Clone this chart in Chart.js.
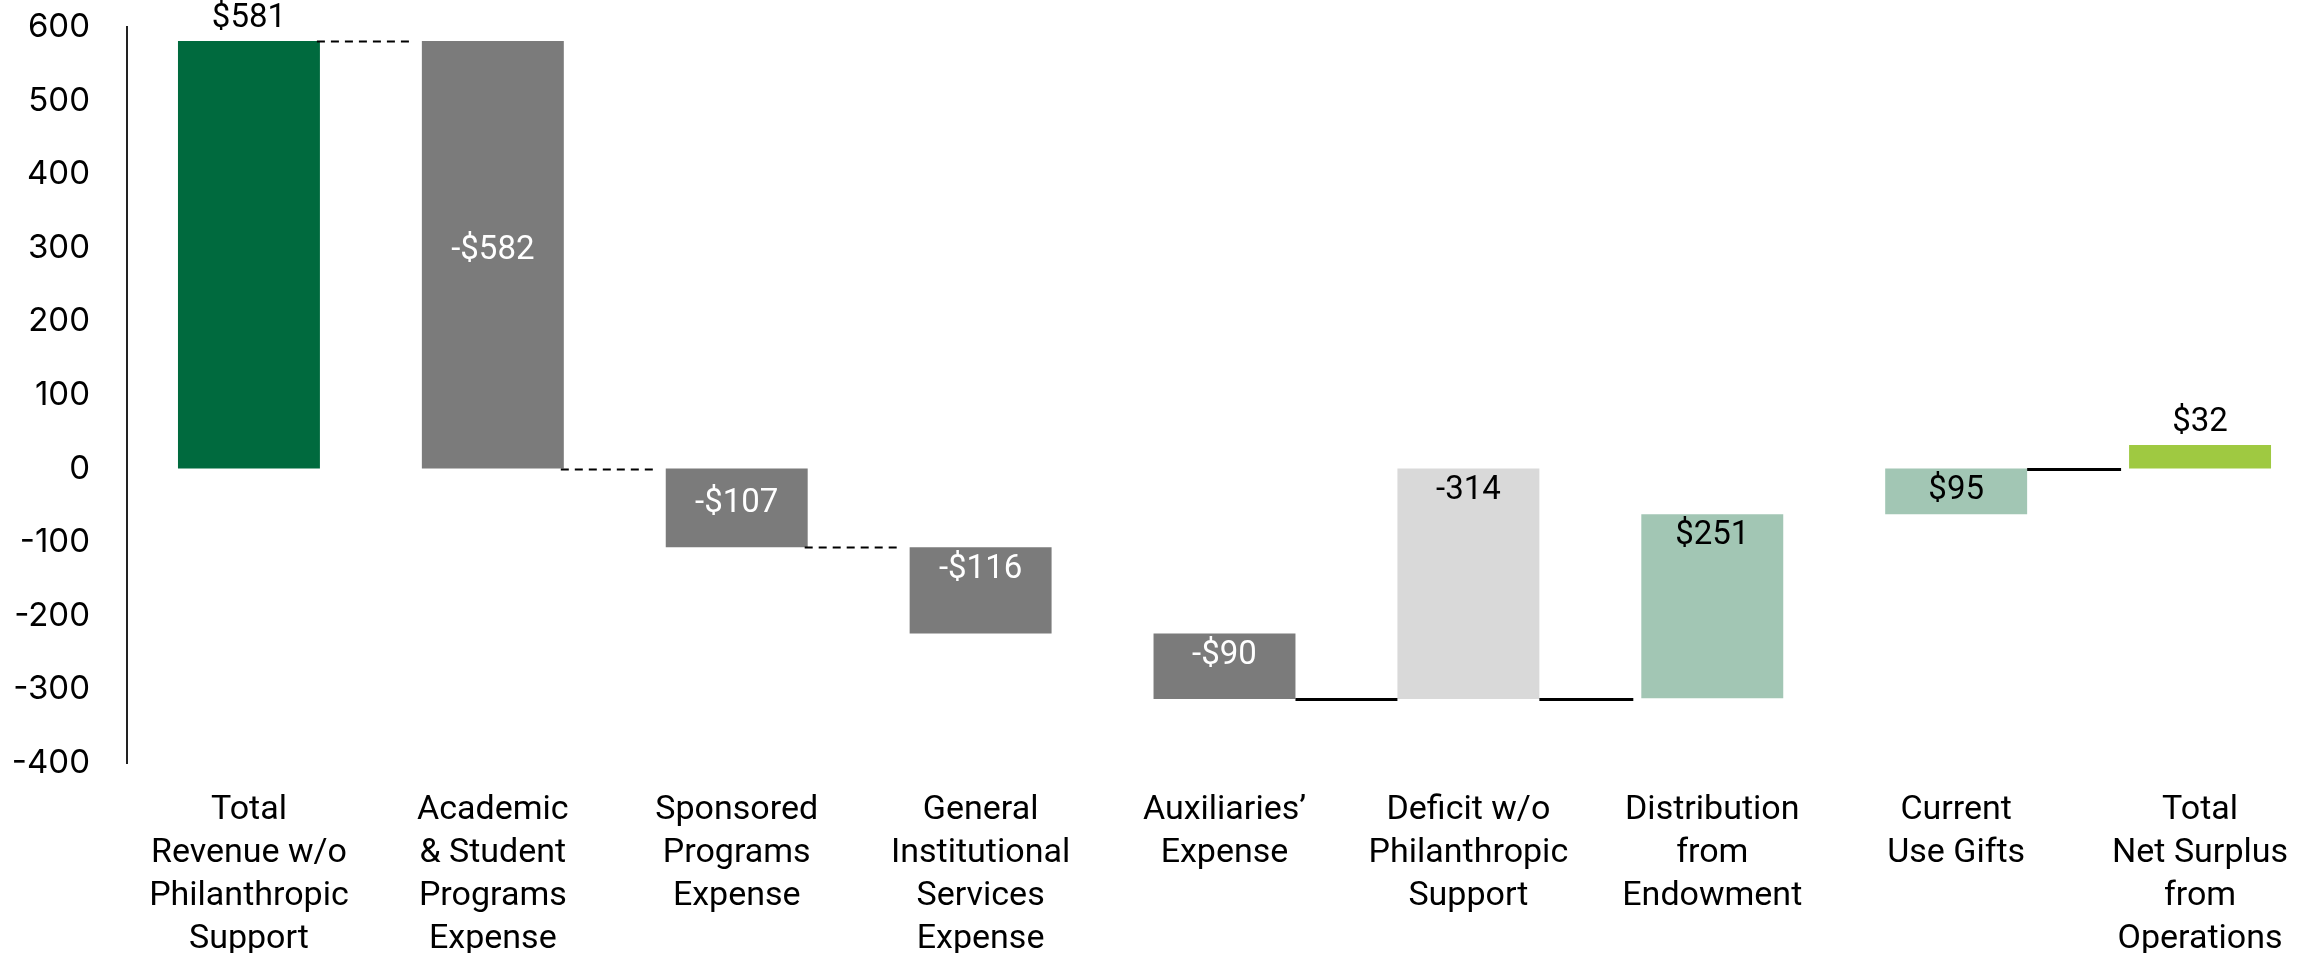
<!DOCTYPE html>
<html>
<head>
<meta charset="utf-8">
<script src="https://cdn.jsdelivr.net/npm/chart.js@4"></script>
<style>
  html, body { margin: 0; padding: 0; background: #fff; }
  #wrap { width: 2323px; height: 953px; position: relative; }
</style>
</head>
<body>
<div id="wrap"><canvas id="c"></canvas></div>
<script>
// ---- data ----
const categories = [
  ['Total', 'Revenue w/o', 'Philanthropic', 'Support'],
  ['Academic', '& Student', 'Programs', 'Expense'],
  ['Sponsored', 'Programs', 'Expense'],
  ['General', 'Institutional', 'Services', 'Expense'],
  ['Auxiliaries\u2019', 'Expense'],
  ['Deficit w/o', 'Philanthropic', 'Support'],
  ['Distribution', 'from', 'Endowment'],
  ['Current', 'Use Gifts'],
  ['Total', 'Net Surplus', 'from', 'Operations']
];
const barLow  = [0,   0,   0,    -107, -224, 0,    -312, -62, 0];
const barHigh = [581, 581, -107, -224, -313, -313, -62,  0,   32];
const valueLabels = ['$581', '-$582', '-$107', '-$116', '-$90', '-314', '$251', '$95', '$32'];
const labelPlacement = ['above', 'center', 'center', 'inside', 'inside', 'inside', 'inside', 'inside', 'above'];
const barColors = ['#006A3E', '#7B7B7B', '#7B7B7B', '#7B7B7B', '#7B7B7B', '#D9D9D9', '#A2C6B4', '#A2C6B4', '#9FC941'];
const labelColors = ['#000', '#fff', '#fff', '#fff', '#fff', '#000', '#000', '#000', '#000'];
const yMin = -400, yMax = 600, yStep = 100;
// connectors: from bar index, at value, dashed?
const connectorFrom   = [0,   1, 2,    4,    5,    7];
const connectorValue  = [581, 0, -107, -313, -313, 0];
const connectorDashed = [true, true, true, false, false, false];

const floatingData = categories.map((_, i) => [barLow[i], barHigh[i]]);

const connectorPlugin = {
  id: 'connectors',
  afterDatasetsDraw(chart) {
    const ctx = chart.ctx;
    const meta = chart.getDatasetMeta(0);
    const ys = chart.scales.y;
    ctx.save();
    ctx.strokeStyle = '#000';
    connectorFrom.forEach((fi, k) => {
      const a = meta.data[fi], b = meta.data[fi + 1];
      if (!a || !b) return;
      const dashed = connectorDashed[k];
      const x1 = a.x + a.width / 2 - (dashed ? 3 : 0);
      const x2 = b.x - b.width / 2 - (dashed ? 12 : (fi === 4 ? 0 : 8));
      const y = Math.round(ys.getPixelForValue(connectorValue[k])) + 0.5;
      ctx.lineWidth = dashed ? 2 : 3;
      ctx.setLineDash(dashed ? [8, 6] : []);
      ctx.beginPath();
      ctx.moveTo(x1, y);
      ctx.lineTo(x2, y);
      ctx.stroke();
    });
    ctx.restore();
  }
};

const valueLabelPlugin = {
  id: 'valueLabels',
  afterDatasetsDraw(chart) {
    const ctx = chart.ctx;
    const meta = chart.getDatasetMeta(0);
    ctx.save();
    ctx.font = '400 33px Roboto, "Liberation Sans", sans-serif';
    ctx.textAlign = 'center';
    ctx.textBaseline = 'middle';
    meta.data.forEach((el, i) => {
      const top = Math.min(el.y, el.base);
      const bottom = Math.max(el.y, el.base);
      let y;
      if (labelPlacement[i] === 'above') y = top - 22;
      else if (labelPlacement[i] === 'center') y = (top + bottom) / 2 - 4;
      else y = top + 22;
      ctx.fillStyle = labelColors[i];
      ctx.fillText(valueLabels[i], el.x, y);
    });
    ctx.restore();
  }
};

new Chart(document.getElementById('c'), {
  type: 'bar',
  data: {
    labels: categories,
    datasets: [{
      data: floatingData,
      backgroundColor: barColors,
      borderWidth: 0,
      barPercentage: 0.582,
      categoryPercentage: 1.0
    }]
  },
  options: {
    responsive: true,
    maintainAspectRatio: false,
    animation: false,
    layout: { padding: { top: 27, right: 1, left: 0, bottom: 0 } },
    plugins: { legend: { display: false }, tooltip: { enabled: false } },
    scales: {
      x: {
        offset: true,
        grid: { display: false, drawTicks: false },
        border: { display: false },
        ticks: {
          color: '#000',
          padding: 26,
          maxRotation: 0,
          autoSkip: false,
          font: { family: 'Roboto, "Liberation Sans", sans-serif', size: 34, lineHeight: 1.265 }
        },
        afterFit(s) { s.height = 190; s.paddingLeft = 0; s.paddingRight = 0; }
      },
      y: {
        min: yMin,
        max: yMax,
        grid: { display: false, drawTicks: false },
        border: { display: true, color: '#222', width: 2 },
        ticks: {
          stepSize: yStep,
          color: '#000',
          padding: 37,
          font: { family: 'Inter, "Open Sans", sans-serif', size: 33 }
        },
        afterFit(s) { s.width = 127; s.paddingTop = 0; s.paddingBottom = 0; }
      }
    }
  },
  plugins: [connectorPlugin, valueLabelPlugin]
});
</script>
</body>
</html>
